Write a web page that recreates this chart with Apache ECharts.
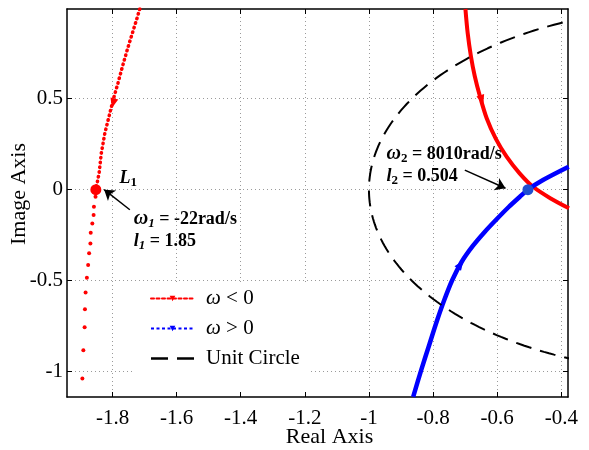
<!DOCTYPE html>
<html>
<head>
<meta charset="utf-8">
<script src="https://cdn.jsdelivr.net/npm/echarts@6/dist/echarts.min.js"></script>
<style>
html,body{margin:0;padding:0;background:#fff;}
#chart{width:589px;height:450px;}
</style>
</head>
<body>
<div id="chart"></div>
<script>
const FONT = '"Liberation Serif","Times New Roman",Times,serif';
const RED = '#ff0000';
const BLUE = '#0000ff';

// axis extents and ticks
const xRange = [-1.942, -0.379];
const yRange = [-1.139, 0.993];
const xTicks = [-1.8, -1.6, -1.4, -1.2, -1, -0.8, -0.6, -0.4];
const yTicks = [-1, -0.5, 0, 0.5];

// omega < 0 locus: left branch, densely sampled upper part
const negLeftDense = [
  [-1.715, 0.993], [-1.725, 0.934], [-1.738, 0.861], [-1.754, 0.769],
  [-1.769, 0.677], [-1.783, 0.586], [-1.798, 0.494], [-1.811, 0.402],
  [-1.824, 0.310], [-1.835, 0.200], [-1.842, 0.090], [-1.852, 0.000]
];
// omega < 0 locus: left branch, sparse samples below L1
const negLeftSparse = [
  [-1.853, -0.039], [-1.858, -0.094], [-1.859, -0.139], [-1.863, -0.185],
  [-1.868, -0.236], [-1.869, -0.295], [-1.873, -0.349], [-1.876, -0.414],
  [-1.880, -0.484], [-1.884, -0.565], [-1.886, -0.657], [-1.887, -0.756],
  [-1.891, -0.882], [-1.894, -1.038]
];
// omega < 0 locus: right branch
const negRight = [
  [-0.699, 0.993], [-0.692, 0.861], [-0.682, 0.735], [-0.670, 0.625],
  [-0.654, 0.515], [-0.633, 0.394], [-0.604, 0.279], [-0.570, 0.180],
  [-0.530, 0.090], [-0.488, 0.016], [-0.433, -0.048], [-0.376, -0.102]
];
// omega > 0 locus
const posBranch = [
  [-0.862, -1.138], [-0.837, -0.991], [-0.812, -0.853], [-0.787, -0.716],
  [-0.765, -0.606], [-0.740, -0.496], [-0.711, -0.397], [-0.676, -0.309],
  [-0.639, -0.232], [-0.601, -0.161], [-0.564, -0.095], [-0.530, -0.040],
  [-0.504, 0.000], [-0.457, 0.053], [-0.377, 0.126]
];
// direction arrows along the loci: [x, y, rotation in degrees, colour]
const dirArrows = [
  [-1.798, 0.475, 166, RED],
  [-0.648, 0.493, 197, RED],
  [-0.714, -0.410, -35, BLUE]
];
// marked intersection points
const L1 = [-1.852, 0];
const L2 = [-0.504, 0];

// unit circle, left half (clipped by the axes)
const circleRadius = 1;
const unitCircle = [];
for (let a = 95; a <= 265; a += 1) {
  const t = a * Math.PI / 180;
  unitCircle.push([circleRadius * Math.cos(t), circleRadius * Math.sin(t)]);
}

// annotation pointers: [tail, head]
const pointers = [
  [[-1.746, -0.110], [-1.826, 0.0]],
  [[-0.701, 0.108], [-0.574, 0.008]]
];

const chart = echarts.init(document.getElementById('chart'), null, {renderer: 'canvas'});

const axisLineStyle = {color: '#000', width: 1.5};
const gridLine = {show: true, lineStyle: {color: '#9a9a9a', width: 1, type: [1, 3]}};
const tickLabel = {color: '#000', fontFamily: FONT, fontSize: 21};
const nameStyle = {color: '#000', fontFamily: FONT, fontSize: 22};

const noteRich = {
  b: {fontFamily: FONT, fontWeight: 'bold', fontSize: 18, lineHeight: 22, color: '#000'},
  bi: {fontFamily: FONT, fontWeight: 'bold', fontStyle: 'italic', fontSize: 18, lineHeight: 22, color: '#000'},
  w: {fontFamily: FONT, fontWeight: 'bold', fontStyle: 'italic', fontSize: 20, lineHeight: 22, color: '#000'},
  si: {fontFamily: FONT, fontWeight: 'bold', fontStyle: 'italic', fontSize: 13, lineHeight: 14, verticalAlign: 'bottom', color: '#000'},
  s: {fontFamily: FONT, fontWeight: 'bold', fontSize: 13, lineHeight: 14, verticalAlign: 'bottom', color: '#000'}
};

const option = {
  animation: false,
  backgroundColor: '#fff',
  grid: {left: 67, right: 21, top: 9, bottom: 53, containLabel: false, outerBoundsMode: 'none'},
  legend: {
    left: 134, top: 284,
    orient: 'vertical',
    backgroundColor: '#fff',
    borderWidth: 0,
    padding: [4, 10, 22, 16],
    itemWidth: 43, itemHeight: 7, itemGap: 9,
    selectedMode: false,
    formatter: n => n.replace('ω', '{w|ω}'),
    textStyle: {
      color: '#000', fontFamily: FONT, fontSize: 21, padding: [0, 0, 0, 7],
      rich: {w: {fontFamily: FONT, fontStyle: 'italic', fontSize: 21}}
    },
    data: [
      {name: 'ω < 0', lineStyle: {color: RED, width: 2, type: [3, 2.5]}, itemStyle: {color: RED}},
      {name: 'ω > 0', lineStyle: {color: BLUE, width: 2, type: [3, 2.5]}, itemStyle: {color: BLUE}},
      {name: 'Unit Circle', icon: 'path://M0,0h17v2.5h-17z M26,0h17v2.5h-17z', itemStyle: {color: '#000'}}
    ]
  },
  xAxis: [{
    type: 'value', min: xRange[0], max: xRange[1], position: 'bottom',
    axisLine: {show: true, onZero: false, lineStyle: axisLineStyle},
    axisTick: {show: true, inside: true, length: 5, customValues: xTicks, lineStyle: {color: '#000', width: 1}},
    axisLabel: Object.assign({customValues: xTicks, margin: 11, formatter: v => String(v)}, tickLabel),
    splitLine: gridLine,
    name: 'Real Axis', nameLocation: 'middle', nameGap: 29, nameMoveOverlap: false,
    nameTextStyle: Object.assign({padding: [0, 0, 0, 24]}, nameStyle)
  }, {
    type: 'value', min: xRange[0], max: xRange[1], position: 'top',
    axisLine: {show: true, onZero: false, lineStyle: axisLineStyle},
    axisTick: {show: true, inside: true, length: 5, customValues: xTicks, lineStyle: {color: '#000', width: 1}},
    axisLabel: {show: false},
    splitLine: {show: false}
  }],
  yAxis: [{
    type: 'value', min: yRange[0], max: yRange[1], position: 'left',
    axisLine: {show: true, onZero: false, lineStyle: axisLineStyle},
    axisTick: {show: true, inside: true, length: 5, customValues: yTicks, lineStyle: {color: '#000', width: 1}},
    axisLabel: Object.assign({customValues: yTicks, margin: 4, formatter: v => String(v)}, tickLabel),
    splitLine: gridLine,
    name: 'Image Axis', nameLocation: 'middle', nameGap: 37, nameRotate: 90, nameMoveOverlap: false,
    nameTextStyle: Object.assign({padding: [0, 0, 0, 18]}, nameStyle)
  }, {
    type: 'value', min: yRange[0], max: yRange[1], position: 'right',
    axisLine: {show: true, onZero: false, lineStyle: axisLineStyle},
    axisTick: {show: true, inside: true, length: 5, customValues: yTicks, lineStyle: {color: '#000', width: 1}},
    axisLabel: {show: false},
    splitLine: {show: false}
  }],
  series: [
    {
      name: 'ω < 0', type: 'line', data: negLeftDense,
      showSymbol: false, symbol: 'triangle', symbolRotate: 180, symbolSize: 6,
      itemStyle: {color: RED},
      lineStyle: {color: RED, width: 3.5, type: [0.5, 4.3], cap: 'round'},
      z: 3
    },
    {
      name: 'ω < 0', type: 'scatter', data: negLeftSparse,
      symbol: 'circle', symbolSize: 4, itemStyle: {color: RED, opacity: 1}, z: 3
    },
    {
      name: 'ω < 0', type: 'line', data: negRight, smooth: 0.3,
      showSymbol: false, symbol: 'none',
      lineStyle: {color: RED, width: 4}, itemStyle: {color: RED}, z: 3
    },
    {
      name: 'ω > 0', type: 'line', data: posBranch, smooth: 0.3,
      showSymbol: false, symbol: 'triangle', symbolRotate: 180, symbolSize: 6,
      lineStyle: {color: BLUE, width: 4.5}, itemStyle: {color: BLUE}, z: 3
    },
    {
      name: 'Unit Circle', type: 'line', data: unitCircle,
      showSymbol: false, symbol: 'none',
      lineStyle: {color: '#000', width: 2, type: [16, 9]}, itemStyle: {color: '#000'}, z: 4
    },
    {
      name: 'direction', type: 'scatter', symbol: 'triangle', symbolSize: [8, 10],
      data: dirArrows.map(d => ({value: [d[0], d[1]], symbolRotate: d[2], itemStyle: {color: d[3], opacity: 1}})),
      z: 5
    },
    {
      name: 'points', type: 'scatter', symbol: 'circle', symbolSize: 11,
      data: [
        {value: L1, itemStyle: {color: RED, opacity: 1}},
        {value: L2, itemStyle: {color: '#1f4fd0', opacity: 1}}
      ],
      z: 6
    },
    {
      name: 'notes', type: 'scatter', symbolSize: 0, silent: true,
      itemStyle: {opacity: 1},
      data: [
        {value: [-1.778, 0.064], label: {formatter: '{bi|L}{s|1}'}},
        {value: [-1.734, -0.222], label: {formatter: '{w|ω}{si|1}{b| = -22rad/s}\n{bi|l}{si|1}{b| = 1.85}'}},
        {value: [-0.945, 0.136], label: {formatter: '{w|ω}{s|2}{b| = 8010rad/s}\n{bi|l}{s|2}{b| = 0.504}'}}
      ],
      label: {show: true, position: 'right', distance: 0, align: 'left', color: '#000', opacity: 1, textBorderWidth: 0, rich: noteRich},
      markLine: {
        silent: true, animation: false,
        symbol: ['none', 'arrow'], symbolSize: 10,
        lineStyle: {color: '#000', width: 1.5, type: 'solid', opacity: 1},
        label: {show: false},
        data: pointers.map(p => [{coord: p[0]}, {coord: p[1]}])
      },
      z: 7
    }
  ]
};

chart.setOption(option);
</script>
</body>
</html>
